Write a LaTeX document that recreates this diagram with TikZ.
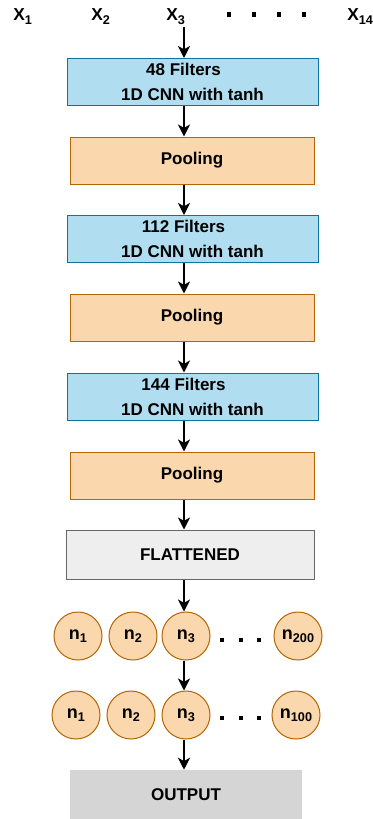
\documentclass[tikz,border=0pt]{standalone}
\usepackage{fontspec}
\setmainfont{Liberation Sans}
\usepackage{tikz}
\usetikzlibrary{arrows.meta}
\usepackage{xcolor}

\definecolor{cnnfill}{HTML}{B1DDF0}
\definecolor{cnnline}{HTML}{10739E}
\definecolor{poolfill}{HTML}{FAD7AC}
\definecolor{poolline}{HTML}{B46504}
\definecolor{flatfill}{HTML}{EEEEEE}
\definecolor{flatline}{HTML}{666666}
\definecolor{outfill}{HTML}{D5D5D5}

\newcommand{\lowidx}[1]{\raisebox{-2.5pt}{\fontsize{9.5}{10}\selectfont #1}}

\tikzset{
  cnnbox/.style={draw=cnnline, fill=cnnfill, line width=0.75pt, inner sep=0pt,
    minimum width=188.25pt, minimum height=35.25pt, align=center,
    font=\bfseries\fontsize{12.75}{18.75}\selectfont},
  poolbox/.style={draw=poolline, fill=poolfill, line width=0.75pt, inner sep=0pt,
    minimum width=183pt, minimum height=35.25pt,
    font=\bfseries\fontsize{12.75}{15}\selectfont},
  flatbox/.style={draw=flatline, fill=flatfill, line width=0.75pt, inner sep=0pt,
    minimum width=186pt, minimum height=36.75pt,
    font=\bfseries\fontsize{12.75}{15}\selectfont},
  outbox/.style={fill=outfill, inner sep=0pt,
    minimum width=174pt, minimum height=36.75pt,
    font=\bfseries\fontsize{12.75}{15}\selectfont},
  neuron/.style={circle, draw=poolline, fill=poolfill, line width=0.75pt, inner sep=0pt,
    minimum size=36pt, font=\bfseries\fontsize{13.5}{15}\selectfont},
  inlabel/.style={anchor=base west, inner sep=0pt,
    font=\bfseries\fontsize{13}{15}\selectfont},
  flow/.style={line width=1.5pt, -{Stealth[length=9pt, width=9pt, inset=2.5pt]}},
}

\begin{document}
\begin{tikzpicture}[x=0.75pt,y=0.75pt,yscale=-1,xscale=1]
\useasboundingbox (0,0) rectangle (373,819);

% Inputs
\node[inlabel] (x1) at (13,20.7) {X\lowidx{1}};
\node[inlabel] (x2) at (91,20.7) {X\lowidx{2}};
\node[inlabel] (x3) at (166,20.7) {X\lowidx{3}};
\node[inlabel] (x14) at (347,20.7) {X\lowidx{14}};
\fill (226.7,12.2) rectangle ++(4.6,4.6);
\fill (251.7,12.2) rectangle ++(4.6,4.6);
\fill (276.7,12.2) rectangle ++(4.6,4.6);
\fill (301.7,12.2) rectangle ++(4.6,4.6);
\coordinate (spine) at (184,27);

% Convolution and pooling blocks
\node[cnnbox] (cnn1) at (192.5,82) {48 Filters\hspace*{13.5pt}\\1D CNN with tanh};
\node[poolbox] (pool1) at (192,160.5) {Pooling};
\node[cnnbox] (cnn2) at (192.5,239) {112 Filters\hspace*{13.5pt}\\1D CNN with tanh};
\node[poolbox] (pool2) at (192,317.5) {Pooling};
\node[cnnbox] (cnn3) at (192.5,396.5) {144 Filters\hspace*{13.5pt}\\1D CNN with tanh};
\node[poolbox] (pool3) at (192,475.5) {Pooling};
\node[flatbox] (flat) at (190,554.5) {FLATTENED};

% Dense layer 1
\node[neuron] (a1) at (78,636) {n\lowidx{1}};
\node[neuron] (a2) at (133,636) {n\lowidx{2}};
\node[neuron] (a3) at (186,636) {n\lowidx{3}};
\node[neuron] (a200) at (298,636) {n\lowidx{200}};
\fill (220,638) rectangle ++(4,4);
\fill (239,638) rectangle ++(4,4);
\fill (257,638) rectangle ++(4,4);

% Dense layer 2
\node[neuron] (b1) at (76,715) {n\lowidx{1}};
\node[neuron] (b2) at (131,715) {n\lowidx{2}};
\node[neuron] (b3) at (186,715) {n\lowidx{3}};
\node[neuron] (b100) at (296,715) {n\lowidx{100}};
\fill (220,716) rectangle ++(4,4);
\fill (239,716) rectangle ++(4,4);
\fill (257,716) rectangle ++(4,4);

% Output
\node[outbox] (out) at (186,794.5) {OUTPUT};

% Arrows
\draw[flow] (spine) -- (spine |- cnn1.north);
\draw[flow] (spine |- cnn1.south) -- (spine |- pool1.north);
\draw[flow] (spine |- pool1.south) -- (spine |- cnn2.north);
\draw[flow] (spine |- cnn2.south) -- (spine |- pool2.north);
\draw[flow] (spine |- pool2.south) -- (spine |- cnn3.north);
\draw[flow] (spine |- cnn3.south) -- (spine |- pool3.north);
\draw[flow] (spine |- pool3.south) -- (spine |- flat.north);
\draw[flow] (spine |- flat.south) -- (spine |- a3.north);
\draw[flow] (spine |- a3.south) -- (spine |- b3.north);
\draw[flow] (spine |- b3.south) -- (spine |- out.north);

\end{tikzpicture}
\end{document}
